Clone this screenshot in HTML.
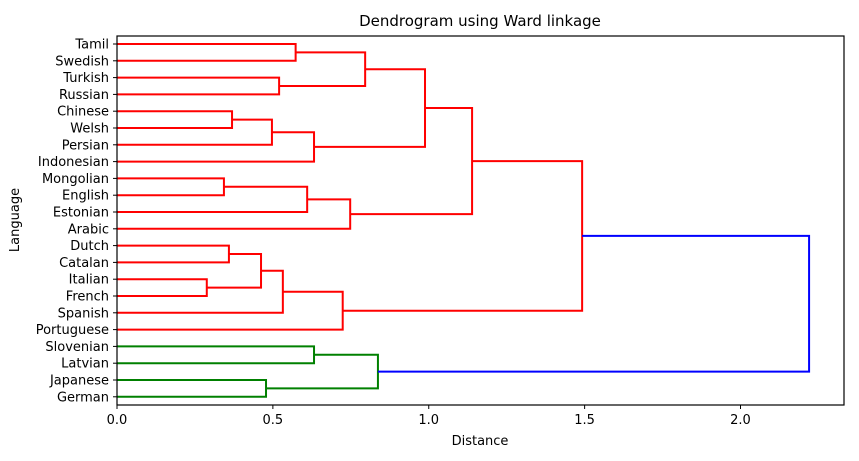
<!DOCTYPE html>
<html><head><meta charset="utf-8"><style>
body{margin:0;background:#fff;}
svg text{font-family:"DejaVu Sans","Liberation Sans",sans-serif;fill:#000;}
</style></head><body>
<svg id="c" width="859" height="456"></svg>
<script>
const leaves=["Tamil","Swedish","Turkish","Russian","Chinese","Welsh","Persian","Indonesian","Mongolian","English","Estonian","Arabic","Dutch","Catalan","Italian","French","Spanish","Portuguese","Slovenian","Latvian","Japanese","German"];
// merges: [childA, childB, height]; ids >= 22 refer to earlier merges (merge k creates id 22+k)
const mergeA=[0,2,22,4,25,26,8,28,29,24,31,12,14,33,35,36,32,18,20,39,38];
const mergeB=[1,3,23,5,6,7,9,10,11,27,30,13,15,34,16,17,37,19,21,40,41];
const heights=[0.573,0.520,0.796,0.369,0.497,0.632,0.343,0.610,0.748,0.988,1.139,0.359,0.288,0.462,0.532,0.724,1.492,0.632,0.478,0.837,2.22];
const linkColors=["red","red","red","red","red","red","red","red","red","red","red","red","red","red","red","red","red","green","green","green","blue"];
const xTicks=[0,0.5,1.0,1.5,2.0];
</script>
<script>
const svg=document.getElementById('c');
const NS="http://www.w3.org/2000/svg";
const L=117,R=844,T=36,B=405,xmax=2.332;
const X=v=>L+v/xmax*(R-L);
const Y=i=>44+i*16.8;
function mk(t,a,p){const e=document.createElementNS(NS,t);for(const k in a)e.setAttribute(k,a[k]);(p||svg).appendChild(e);return e;}
const pos=[],hh=[];
leaves.forEach((n,i)=>{pos[i]=Y(i);hh[i]=0;});
const g=mk('g',{});


for(let k=0;k<heights.length;k++){
  const a=mergeA[k],b=mergeB[k],h=heights[k],id=22+k;
  const ya=pos[a],yb=pos[b];
  const p=mk('polyline',{points:`${X(hh[a])},${ya} ${X(h)},${ya} ${X(h)},${yb} ${X(hh[b])},${yb}`,fill:'none',stroke:linkColors[k],'stroke-width':2},g);
  
  
  pos[id]=(ya+yb)/2;hh[id]=h;
}
mk('rect',{x:L,y:T,width:R-L,height:B-T,fill:'none',stroke:'#000','stroke-width':1.2});
leaves.forEach((n,i)=>{
  mk('line',{x1:L-4,x2:L,y1:Y(i),y2:Y(i),stroke:'#000'});
  const t=mk('text',{x:L-8,y:Y(i)+4.5,'text-anchor':'end','font-size':13});t.textContent=n;
  
  
});
xTicks.forEach(v=>{
  mk('line',{x1:X(v),x2:X(v),y1:B,y2:B+4,stroke:'#000'});
  const t=mk('text',{x:X(v),y:B+19,'text-anchor':'middle','font-size':13});t.textContent=v.toFixed(1);
  
  
});
let t=mk('text',{x:480,y:26,'text-anchor':'middle','font-size':15});t.textContent='Dendrogram using Ward linkage';

t=mk('text',{x:480,y:445,'text-anchor':'middle','font-size':13});t.textContent='Distance';

t=mk('text',{x:19,y:220,'text-anchor':'middle','font-size':13,transform:'rotate(-90 19 220)'});t.textContent='Language';

</script>
</body></html>
